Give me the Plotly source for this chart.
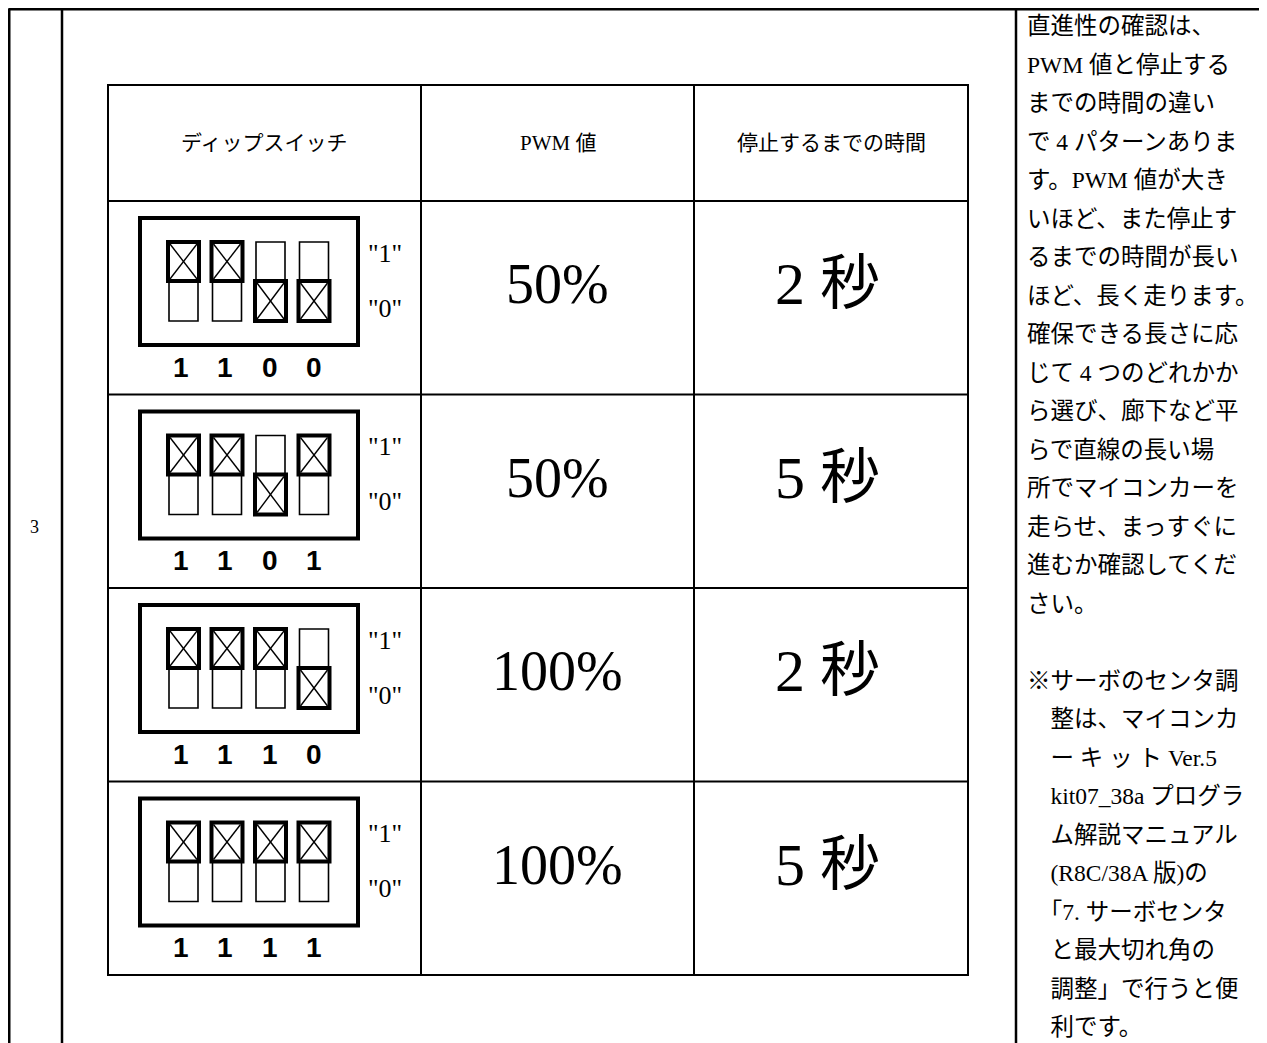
import plotly.graph_objects as go

# ---------------- data ----------------
row_number = "3"
headers = ["ディップスイッチ", "PWM 値", "停止するまでの時間"]
switch_states = [
    [1, 1, 0, 0],
    [1, 1, 0, 1],
    [1, 1, 1, 0],
    [1, 1, 1, 1],
]
pwm_values = ["50%", "50%", "100%", "100%"]
stop_times = ["2 秒", "5 秒", "2 秒", "5 秒"]
on_off_labels = ['"1"', '"0"']
note_lines = [
    "直進性の確認は、",
    "PWM 値と停止する",
    "までの時間の違い",
    "で 4 パターンありま",
    "す。PWM 値が大き",
    "いほど、また停止す",
    "るまでの時間が長い",
    "ほど、長く走ります。",
    "確保できる長さに応",
    "じて 4 つのどれかか",
    "ら選び、廊下など平",
    "らで直線の長い場",
    "所でマイコンカーを",
    "走らせ、まっすぐに",
    "進むか確認してくだ",
    "さい。",
    "",
    "※サーボのセンタ調",
    "　整は、マイコンカ",
    "　ー キ ッ ト Ver.5",
    "　kit07_38a プログラ",
    "　ム解説マニュアル",
    "　(R8C/38A 版)の",
    "　「7. サーボセンタ",
    "　と最大切れ角の",
    "　調整」で行うと便",
    "　利です。",
]

# ---------------- layout constants ----------------
W, H = 1267, 1043
PAGE_MARGIN = 8  # default body margin of the html page
SERIF = "Liberation Serif, Noto Sans CJK JP, serif"
BOLD_SANS = "Liberation Sans, Arial, sans-serif"

col_x = [108, 421, 694, 968]
tbl_top, hdr_bot = 85, 201
row_h = 193.5

shapes = []
ann = []


def line(x0, y0, x1, y1, w=2.2):
    shapes.append(dict(type="line", x0=x0, y0=y0, x1=x1, y1=y1,
                       xref="x", yref="y", line=dict(color="black", width=w)))


def rect(x0, y0, x1, y1, w=2.0):
    shapes.append(dict(type="rect", x0=x0, y0=y0, x1=x1, y1=y1,
                       xref="x", yref="y", line=dict(color="black", width=w),
                       fillcolor="rgba(0,0,0,0)"))


def text(x, y, s, size, family, xanchor="center", weight=None):
    f = dict(size=size, family=family, color="black")
    if weight:
        f["weight"] = weight
    ann.append(dict(x=x, y=y, xref="x", yref="y", text=s, showarrow=False,
                    xanchor=xanchor, yanchor="middle", font=f))


# outer frame
line(8.6, 9.2, W + 5, 9.2, 2.6)
line(9.2, 8.6, 9.2, H + 5, 2.6)
line(62, 8, 62, H + 5, 2.5)
line(1016, 8, 1016, H + 5, 2.5)

text(34, 527, row_number, 18, SERIF)

# inner table
n_rows = len(switch_states)
tbl_bot = hdr_bot + n_rows * row_h
rect(col_x[0], tbl_top, col_x[-1], tbl_bot, 2.0)
for cx in col_x[1:-1]:
    line(cx, tbl_top, cx, tbl_bot, 2.0)
line(col_x[0], hdr_bot, col_x[-1], hdr_bot, 2.0)
for r in range(1, n_rows):
    y = hdr_bot + r * row_h
    line(col_x[0], y, col_x[-1], y, 2.0)

for i, h in enumerate(headers):
    text((col_x[i] + col_x[i + 1]) / 2, 143, h, 21, SERIF)

# rows
sw_x0, sw_w, sw_step = 168, 31, 43.5
for r, states in enumerate(switch_states):
    top = hdr_bot + r * row_h
    # dip switch body
    rect(140, top + 17, 358, top + 144, 4)
    y_top, y_mid, y_bot = top + 41, top + 80, top + 120
    for i, s in enumerate(states):
        x0 = sw_x0 + i * sw_step
        x1 = x0 + sw_w
        if s == 1:
            rect(x0 + 1, y_mid, x1 - 1, y_bot, 1.6)
            a, b = y_top, y_mid
        else:
            rect(x0 + 1, y_top, x1 - 1, y_mid, 1.6)
            a, b = y_mid, y_bot
        rect(x0, a, x1, b, 4)
        line(x0 + 2, a + 2, x1 - 2, b - 2, 1.4)
        line(x0 + 2, b - 2, x1 - 2, a + 2, 1.4)
        text(x0 + sw_w / 2 - 3 + i * 1.0, top + 166, str(s), 28, BOLD_SANS, weight="bold")
    text(385, top + 52, on_off_labels[0], 26, SERIF)
    text(385, top + 107, on_off_labels[1], 26, SERIF)
    # values
    text((col_x[1] + col_x[2]) / 2, top + 83, pwm_values[r], 56, SERIF)
    text((col_x[2] + col_x[3]) / 2 - 4, top + 83, stop_times[r], 60, SERIF)

# note column
for k, s in enumerate(note_lines):
    if s:
        text(1025, 26 + k * 38.5, s, 23.5, SERIF, xanchor="left")

fig = go.Figure()
fig.update_layout(
    width=W - PAGE_MARGIN, height=H - PAGE_MARGIN,
    margin=dict(l=0, r=0, t=0, b=0),
    paper_bgcolor="white", plot_bgcolor="white",
    xaxis=dict(range=[PAGE_MARGIN, W], visible=False, fixedrange=True),
    yaxis=dict(range=[H, PAGE_MARGIN], visible=False, fixedrange=True),
    shapes=shapes, annotations=ann, showlegend=False,
)
fig.write_html("out.html", config={"displayModeBar": False})
